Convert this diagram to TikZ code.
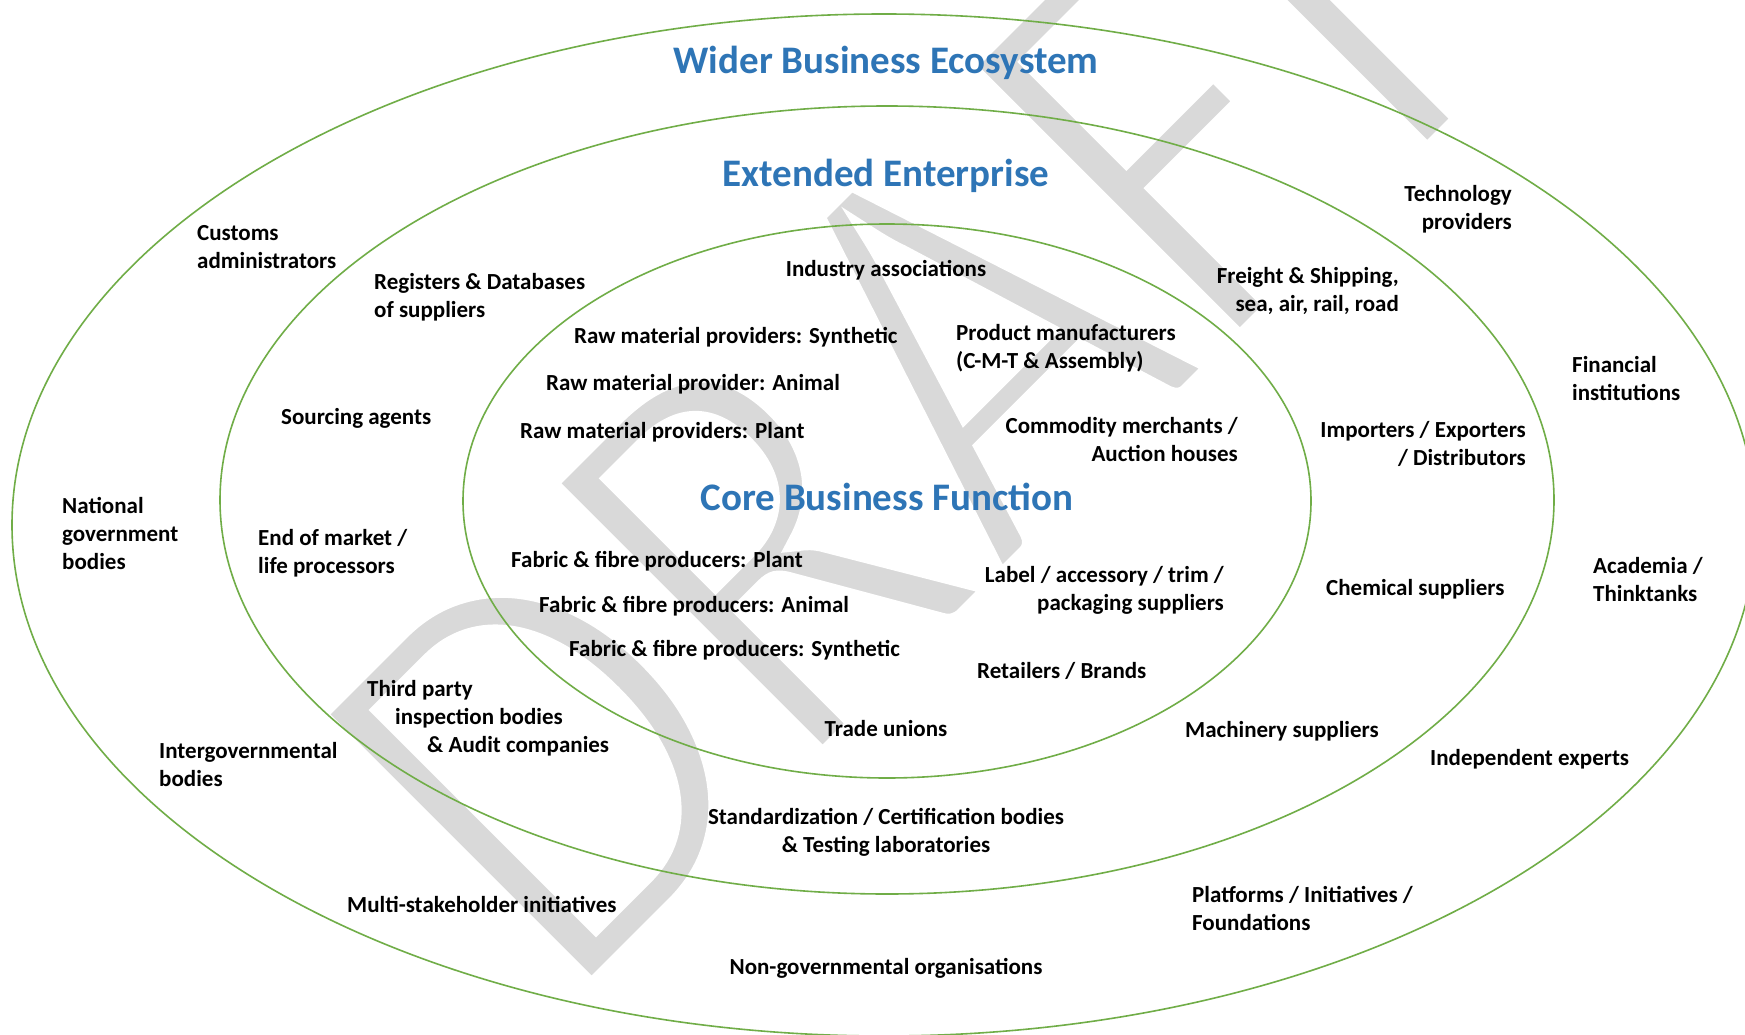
\documentclass[tikz,border=0pt]{standalone}
\usepackage{fontspec}
\setmainfont{Carlito}
\definecolor{ringgreen}{HTML}{70AD47}
\definecolor{titleblue}{HTML}{2E75B6}
\definecolor{wmgray}{HTML}{D9D9D9}
\newcommand{\thinstart}{\special{pdf:literal direct 2 Tr 17 w 1 1 1 RG}}
\newcommand{\thinstop}{\special{pdf:literal direct 0 Tr}}
\tikzset{
  ring/.style={draw=ringgreen, line width=1.6pt},
  lbl/.style={font=\bfseries\fontsize{23}{28}\selectfont, inner sep=0pt, text=black},
  lblL/.style={lbl, align=left, anchor=west},
  lblR/.style={lbl, align=right, anchor=east},
  lblC/.style={lbl, align=center, anchor=center},
  ttl/.style={font=\bfseries\fontsize{39}{44}\selectfont, inner sep=0pt, text=titleblue, anchor=center},
  wmark/.style={font=\fontsize{528}{528}\selectfont, inner sep=0pt, text=wmgray, rotate=45, yscale=1.148, anchor=base west}
}
\begin{document}
\begin{tikzpicture}[x=1pt,y=-1pt]
\useasboundingbox (0,0) rectangle (1745,1035);
\clip (0,0) rectangle (1745,1035);
\fill[white] (0,0) rectangle (1745,1035);
% watermark
\node[wmark] (wm) at (567,1014) {\thinstart DRAF\kern-47pt T\thinstop};
% rings
\draw[ring] (884,525) ellipse [x radius=872pt, y radius=511pt];
\draw[ring] (887,500) ellipse [x radius=667pt, y radius=394pt];
\draw[ring] (887,501) ellipse [x radius=424pt, y radius=277pt];
% titles
\node[ttl] (t1) at (886,63) {Wider Business Ecosystem};
\node[ttl] (t2) at (886,176) {Extended Enterprise};
\node[ttl] (t3) at (887,497) {Core Business Function};
% centre-aligned
\node[lblC] (ia) at (886,270) {Industry associations};
\node[lblC] (tu) at (886,729) {Trade unions};
\node[lblC] (sc) at (886,832.5) {Standardization / Certification bodies\\\& Testing laboratories};
\node[lblC] (ngo) at (886,968) {Non-governmental organisations};
% left-aligned
\node[lblL] (cu) at (197,247.5) {Customs\\administrators};
\node[lblL] (rd) at (374,297) {Registers \& Databases\\of suppliers};
\node[lblL] (sa) at (281,418) {Sourcing agents};
\node[lblL] (ng) at (62,533) {National\\government\\bodies};
\node[lblL] (em) at (258,553.5) {End of market /\\life processors};
\node[lblL] (ig) at (159,764.5) {Intergovernmental\\bodies};
\node[lblL] (tp) at (367,718.5) {Third party\\\hspace*{28pt}inspection bodies\\\hspace*{60pt}\& Audit companies};
\node[lblL] (ms) at (347,904) {Multi-stakeholder initiatives};
\node[lblL] (rs) at (574,337) {Raw material providers: Synthetic};
\node[lblL] (ra) at (546,384) {Raw material provider: Animal};
\node[lblL] (rp) at (520,432) {Raw material providers: Plant};
\node[lblL] (pm) at (956,348) {Product manufacturers\\(C-M-T \& Assembly)};
\node[lblL] (fp) at (511,561) {Fabric \& fibre producers: Plant};
\node[lblL] (fa) at (539,606) {Fabric \& fibre producers: Animal};
\node[lblL] (fs) at (569,650) {Fabric \& fibre producers: Synthetic};
\node[lblL] (rb) at (977,671) {Retailers / Brands};
\node[lblL] (mc) at (1185,731) {Machinery suppliers};
\node[lblL] (ch) at (1326,589) {Chemical suppliers};
\node[lblL] (pf) at (1192,908) {Platforms / Initiatives /\\Foundations};
\node[lblL] (fi) at (1572,378.5) {Financial\\institutions};
\node[lblL] (ac) at (1593,579.5) {Academia /\\Thinktanks};
\node[lblL] (ie) at (1430,759) {Independent experts};
% right-aligned
\node[lblR] (cm) at (1238,439.5) {Commodity merchants /\\Auction houses};
\node[lblR] (la) at (1224,590.5) {Label / accessory / trim /\\packaging suppliers};
\node[lblR] (ie2) at (1526,443.5) {Importers / Exporters\\/ Distributors};
\node[lblR] (fr) at (1399,291) {Freight \& Shipping,\\sea, air, rail, road};
\node[lblR] (tc) at (1512,209.5) {Technology\\providers};
\end{tikzpicture}
\end{document}
